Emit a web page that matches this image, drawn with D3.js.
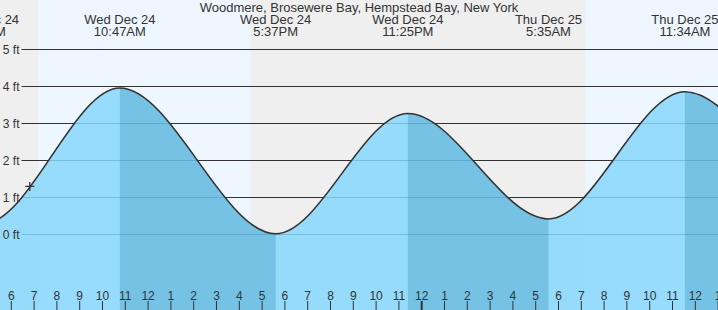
<!DOCTYPE html>
<html><head><meta charset="utf-8">
<script src="https://cdn.jsdelivr.net/npm/d3@7"></script>
<style>
html,body{margin:0;padding:0;background:#fff;}
svg{display:block;font-family:"Liberation Sans",Arial,sans-serif;}
</style></head><body>
<svg id="chart" width="718" height="310"></svg>
<script>
// ---- data ----
const title = "Woodmere, Brosewere Bay, Hempstead Bay, New York";
// tide extremes (local time) and heights (ft); first and last are off-chart estimates
const tideTimes = ["2025-12-23T22:35:00","2025-12-24T04:48:00","2025-12-24T10:47:00","2025-12-24T17:37:00","2025-12-24T23:25:00","2025-12-25T05:35:00","2025-12-25T11:34:00","2025-12-25T18:50:00","2025-12-26T00:55:00"];
const tideHeights = [3.4, 0.29, 3.96, 0.02, 3.27, 0.42, 3.86, 0.10, 3.3];
// daylight intervals: sunrise, sunset pairs
const sunrises = ["2025-12-24T07:12:00","2025-12-25T07:12:00"];
const sunsets  = ["2025-12-24T16:31:00","2025-12-25T16:32:00"];
const markerTime = "2025-12-24T06:50:00";
const markerHeight = 1.3;
const yTickValues = [0,1,2,3,4,5];
const yTickLabels = ["0 ft","1 ft","2 ft","3 ft","4 ft","5 ft"];
const timeDomain = ["2025-12-24T05:31:35","2025-12-25T13:01:03"];

// ---- layout ----
const W = 718, H = 310;
const svg = d3.select("#chart");
const parse = s => new Date(s);
const x = d3.scaleTime().domain(timeDomain.map(parse)).range([0, W]);
const y = d3.scaleLinear().domain([0, 5]).range([234.5, 49.5]);

const tides = tideTimes.map((t, i) => ({t: parse(t), h: tideHeights[i]}));

// backgrounds
svg.append("rect").attr("x",0).attr("y",0).attr("width",W).attr("height",H).attr("fill","#efefef");
svg.append("g").selectAll("rect").data(sunrises.map((s,i)=>[parse(s), parse(sunsets[i])]))
  .join("rect")
  .attr("x", d => x(d[0])).attr("y", 0)
  .attr("width", d => x(d[1]) - x(d[0])).attr("height", H)
  .attr("fill", "#eef7ff");

// gridlines
svg.append("g").selectAll("line").data(yTickValues).join("line")
  .attr("x1", 21.5).attr("x2", W)
  .attr("y1", d => y(d)).attr("y2", d => y(d))
  .attr("stroke", "#333").attr("stroke-width", 1);

// water
const area = d3.area().x(d => x(d.t)).y0(H).y1(d => y(d.h)).curve(d3.curveMonotoneX);
const line = d3.line().x(d => x(d.t)).y(d => y(d.h)).curve(d3.curveMonotoneX);

svg.append("clipPath").attr("id","waterClip").append("path").attr("d", area(tides));

svg.append("path").attr("d", area(tides))
  .attr("fill", "rgb(135,215,252)").attr("fill-opacity", 0.85);

const falling = [];
for (let i = 0; i < tides.length - 1; i++) {
  if (tides[i].h > tides[i+1].h) falling.push([tides[i].t, tides[i+1].t]);
}
svg.append("g").attr("clip-path","url(#waterClip)")
  .selectAll("rect").data(falling).join("rect")
  .attr("x", d => x(d[0])).attr("y", 0)
  .attr("width", d => x(d[1]) - x(d[0])).attr("height", H)
  .attr("fill", "rgb(0,105,150)").attr("fill-opacity", 0.22);

svg.append("path").attr("d", line(tides))
  .attr("fill","none").attr("stroke","#333").attr("stroke-width",1.6);

// y labels
svg.append("g").selectAll("text").data(yTickValues).join("text")
  .attr("x", 19.5).attr("y", d => y(d)).attr("dy","0.35em")
  .attr("text-anchor","end").attr("font-size","12px").attr("fill","#333")
  .text((d,i) => yTickLabels[i]);

// title
svg.append("text").attr("x", 359).attr("y", 11.5).attr("text-anchor","middle")
  .attr("font-size","13px").attr("fill","#333").text(title);

// tide labels (only those reaching into the view)
const fDay = d3.timeFormat("%a %b %d");
const fTime = d3.timeFormat("%-I:%M%p");
const visibleTides = tides.filter(d => x(d.t) > -40 && x(d.t) < W + 40);
const lab = svg.append("g").selectAll("text").data(visibleTides).join("text")
  .attr("text-anchor","middle").attr("font-size","13px").attr("fill","#333");
lab.append("tspan").attr("x", d => x(d.t)).attr("y", 24).text(d => fDay(d.t));
lab.append("tspan").attr("x", d => x(d.t)).attr("y", 36).text(d => fTime(d.t));

// hour axis
const axis = d3.axisTop(x).ticks(d3.timeHour.every(1)).tickFormat(d3.timeFormat("%-I")).tickSize(9).tickPadding(1.5);
const ag = svg.append("g").attr("transform", `translate(0,${H})`).call(axis);
ag.select(".domain").remove();
ag.attr("font-family", null).attr("font-size", null);
ag.selectAll("text").attr("font-size","12px").attr("fill","#333");
ag.selectAll(".tick line").attr("stroke","#333")
  .attr("stroke-width", d => d.getHours() === 0 ? 2 : 1);

// current-time marker
const mx = x(parse(markerTime)), my = y(markerHeight);
svg.append("path").attr("d", `M${mx-4.5},${my}H${mx+4.5}M${mx},${my-4.5}V${my+4.5}`)
  .attr("stroke","#333").attr("stroke-width",1.3).attr("fill","none");
</script>
</body></html>
